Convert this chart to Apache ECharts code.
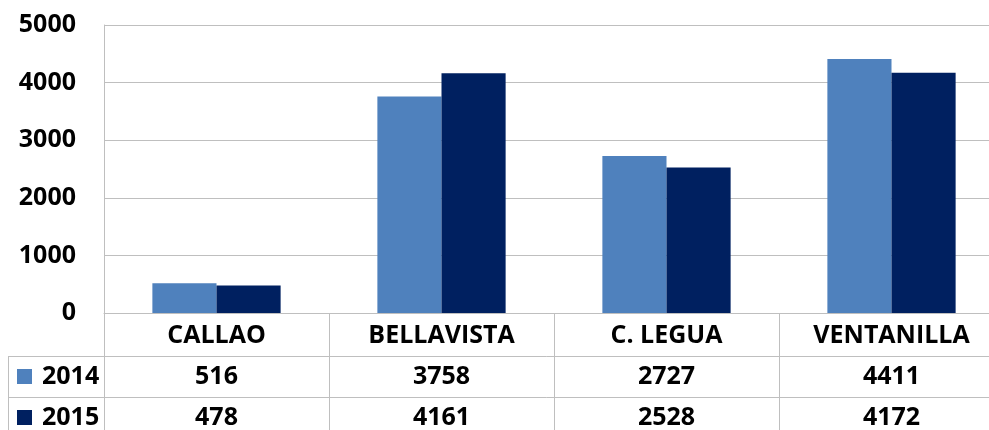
<!DOCTYPE html>
<html>
<head>
<meta charset="utf-8">
<script src="https://cdn.jsdelivr.net/npm/echarts@6/dist/echarts.min.js"></script>
<style>
html,body{margin:0;padding:0;background:#fff;}
#chart{width:989px;height:430px;}
</style>
</head>
<body>
<div id="chart"></div>
<script>
const categories = ['CALLAO', 'BELLAVISTA', 'C. LEGUA', 'VENTANILLA'];
const seriesNames = ['2014', '2015'];
const values2014 = [516, 3758, 2727, 4411];
const values2015 = [478, 4161, 2528, 4172];
const yTicks = [0, 1000, 2000, 3000, 4000, 5000];

const FONT = '"Open Sans", "Noto Sans", sans-serif';
const GRID_COLOR = '#BFBFBF';
const C2014 = '#4F81BD';
const C2015 = '#002060';

const labelStyle = { fontFamily: FONT, fontWeight: 'bold', fontSize: 25, color: '#000' };

const chart = echarts.init(document.getElementById('chart'));
chart.setOption({
  animation: false,
  backgroundColor: '#fff',
  grid: { left: 104, top: 25, right: -15, height: 288, containLabel: false, outerBoundsMode: 'none' },
  legend: {
    orient: 'vertical',
    left: 17,
    top: 364,
    padding: 0,
    height: 100,
    itemWidth: 15,
    itemHeight: 15,
    itemGap: 16,
    icon: 'rect',
    data: seriesNames,
    textStyle: Object.assign({}, labelStyle, { lineHeight: 24, padding: [0, 0, 0, 5] })
  },
  xAxis: [
    {
      type: 'category',
      data: categories,
      axisLine: { show: true, lineStyle: { color: GRID_COLOR, width: 1 } },
      axisTick: { show: true, length: 117, lineStyle: { color: GRID_COLOR, width: 1 } },
      axisLabel: Object.assign({ margin: 10 }, labelStyle),
      splitLine: { show: false }
    },
    {
      type: 'category',
      position: 'bottom',
      offset: 43,
      data: values2014.map(String),
      axisLine: { show: true, lineStyle: { color: GRID_COLOR, width: 1 } },
      axisTick: { show: false },
      axisLabel: Object.assign({ margin: 8 }, labelStyle)
    },
    {
      type: 'category',
      position: 'bottom',
      offset: 84,
      data: values2015.map(String),
      axisLine: { show: true, lineStyle: { color: GRID_COLOR, width: 1 } },
      axisTick: { show: false },
      axisLabel: Object.assign({ margin: 8 }, labelStyle)
    }
  ],
  yAxis: {
    type: 'value',
    min: yTicks[0],
    max: yTicks[yTicks.length - 1],
    interval: 1000,
    axisLine: { show: true, lineStyle: { color: GRID_COLOR, width: 1 } },
    axisTick: { show: false },
    axisLabel: Object.assign({ margin: 28, formatter: v => String(v) }, labelStyle),
    splitLine: { show: true, lineStyle: { color: GRID_COLOR, width: 1 } }
  },
  graphic: [
    { type: 'line', shape: { x1: 8, y1: 356.5, x2: 104, y2: 356.5 }, style: { stroke: GRID_COLOR, lineWidth: 1 } },
    { type: 'line', shape: { x1: 8, y1: 397.5, x2: 104, y2: 397.5 }, style: { stroke: GRID_COLOR, lineWidth: 1 } },
    { type: 'line', shape: { x1: 8.5, y1: 356, x2: 8.5, y2: 430 }, style: { stroke: GRID_COLOR, lineWidth: 1 } }
  ],
  series: [
    { name: seriesNames[0], type: 'bar', data: values2014, itemStyle: { color: C2014 }, barGap: '0%', barCategoryGap: '43%' },
    { name: seriesNames[1], type: 'bar', data: values2015, itemStyle: { color: C2015 }, barGap: '0%', barCategoryGap: '43%' }
  ]
});
</script>
</body>
</html>
